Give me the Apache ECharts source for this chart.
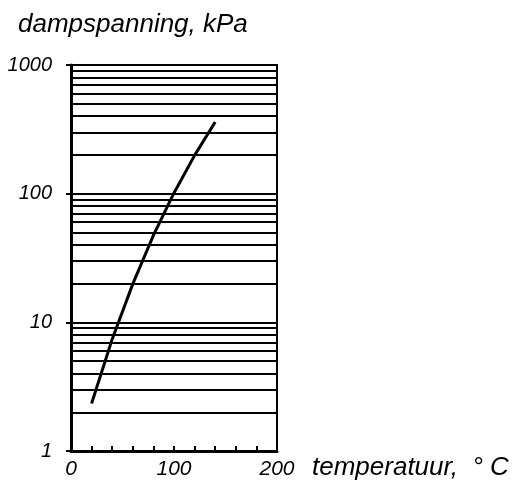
<!DOCTYPE html>
<html>
<head>
    <meta charset="utf-8">
    <title>dampspanning</title>
    <script src="https://cdn.jsdelivr.net/npm/echarts@6/dist/echarts.min.js"></script>
</head>
<body style="margin:0">
<div id="main" style="width: 516px;height:488px;"></div>
<script type="text/javascript">
    // temperatuur (°C) en dampspanning (kPa)
    var temps = [20, 40, 60, 80, 100, 120, 140];
    var druk = [2.34, 7.4, 19.9, 47.4, 101.3, 198.5, 361];
    // hulplijnen tussen de decades
    var gridWaarden = [2, 3, 4, 5, 6, 7, 8, 9, 20, 30, 40, 50, 60, 70, 80, 90, 200, 300, 400, 500, 600, 700, 800, 900];
    var xLabels = [0, 100, 200];

    var font = '"Liberation Sans", Arial, sans-serif';
    var myChart = echarts.init(document.getElementById('main'));

    var punten = [];
    for (var i = 0; i < temps.length; i++) {
        punten.push([temps[i], druk[i]]);
    }
    var lijnen = [];
    for (var j = 0; j < gridWaarden.length; j++) {
        lijnen.push({yAxis: gridWaarden[j]});
    }

    var option = {
        animation: false,
        backgroundColor: '#fff',
        grid: {
            left: 71, right: 239, top: 65, bottom: 37,
            show: true,
            borderColor: '#000',
            borderWidth: 2
        },
        graphic: [
            {
                type: 'text', x: 18, y: 25,
                style: {
                    text: 'dampspanning, kPa', fontSize: 26, fontStyle: 'italic',
                    fontFamily: font, fill: '#000', textVerticalAlign: 'middle'
                }
            },
            {
                type: 'text', x: 312, y: 468,
                style: {
                    text: 'temperatuur,  \u00b0 C', fontSize: 26, fontStyle: 'italic',
                    fontFamily: font, fill: '#000', textVerticalAlign: 'middle'
                }
            }
        ],
        xAxis: {
            type: 'value',
            min: 0, max: 200, interval: 20,
            axisLine: {lineStyle: {color: '#000', width: 3}},
            axisTick: {inside: true, length: 5, lineStyle: {color: '#000', width: 2}},
            splitLine: {show: false},
            axisLabel: {
                color: '#000', fontSize: 21, fontStyle: 'italic', fontFamily: font, margin: 8,
                formatter: function (v) {
                    return xLabels.indexOf(v) >= 0 ? String(v) : '';
                }
            }
        },
        yAxis: {
            type: 'log',
            logBase: 10,
            min: 1, max: 1000,
            axisLine: {show: true, lineStyle: {color: '#000', width: 3}},
            axisTick: {show: true, length: 5, lineStyle: {color: '#000', width: 2}},
            splitLine: {show: true, lineStyle: {color: '#000', width: 2}},
            axisLabel: {
                color: '#000', fontSize: 20, fontStyle: 'italic', fontFamily: font, margin: 19,
                formatter: function (v) {
                    return String(Math.round(v));
                }
            }
        },
        series: [
            {
                type: 'line',
                data: punten,
                symbol: 'none',
                smooth: false,
                lineStyle: {color: '#000', width: 3},
                markLine: {
                    silent: true,
                    symbol: ['none', 'none'],
                    label: {show: false},
                    lineStyle: {color: '#000', width: 2, type: 'solid'},
                    data: lijnen
                }
            }
        ]
    };

    myChart.setOption(option);
</script>
</body>
</html>
